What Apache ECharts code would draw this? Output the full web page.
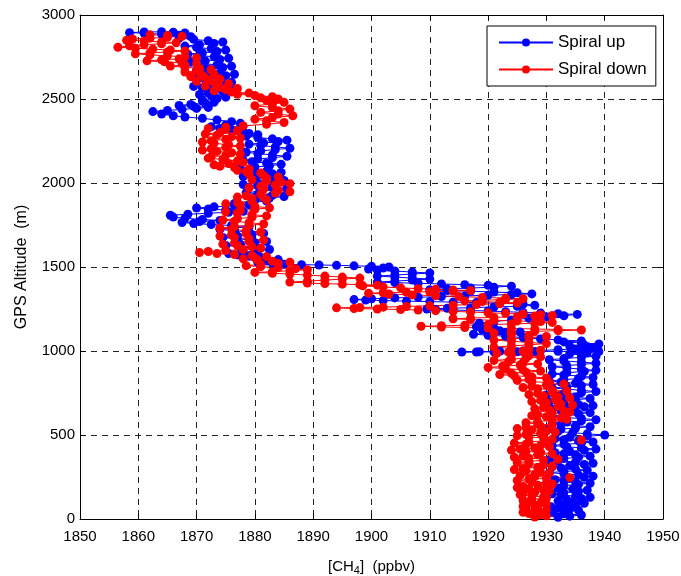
<!DOCTYPE html>
<html>
<head>
<meta charset="utf-8">
<script src="https://cdn.jsdelivr.net/npm/echarts@6/dist/echarts.min.js"></script>
<style>
  html, body { margin: 0; padding: 0; background: #fff; }
  #chart { width: 681px; height: 576px; }
</style>
</head>
<body>
<div id="chart"></div>
<script>
// [CH4 ppbv, altitude m], in flight order
const spiralUp = [
  // 0 - 1000 m
  [1932,10],[1934,17],[1936,24],[1933,31],[1931,38],[1933.5,45],[1935.5,52],[1934,59],[1932,66],[1930.8,73],
  [1933,80],[1935,87],[1936.5,94],[1934,101],[1932,108],[1933.5,115],[1936,122],[1937.5,129],[1935,136],[1932.5,143],
  [1931,150],[1933,157],[1935.5,164],[1937,171],[1934.5,178],[1932,185],[1930.5,192],[1933,199],[1935.5,206],[1937.5,213],
  [1935,220],[1933,227],[1931.5,234],[1934,241],[1936.5,248],[1938,255],[1935.5,262],[1933,269],[1930.5,276],[1933,283],
  [1937,290],[1935,297],[1932.5,304],[1931,311],[1934,318],[1936.5,325],[1938,332],[1935,339],[1932,346],[1930.5,353],
  [1933,360],[1935.5,367],[1937.5,374],[1935,381],[1933,388],[1931.5,395],[1934,402],[1936.5,409],[1938.5,416],[1936,423],
  [1933.5,430],[1931,437],[1933,444],[1936,451],[1938,458],[1935.5,465],[1933,472],[1931.5,479],[1934,486],[1937,493],
  [1940,500],[1937,507],[1934.5,514],[1932,521],[1930,528],[1932.5,535],[1935,542],[1937.5,549],[1935,556],[1932.5,563],
  [1931,570],[1933.5,577],[1936,584],[1938.5,591],[1936,598],[1933,605],[1930.5,612],[1933,619],[1935.5,626],[1937.5,633],
  [1935,640],[1932.5,647],[1931,654],[1934,661],[1936.5,668],[1938,675],[1935.5,682],[1933,689],[1930.5,696],[1932.5,703],
  [1935,710],[1937.5,717],[1935,724],[1932,731],[1930,738],[1933,745],[1936,752],[1938.5,759],[1936,766],[1933.5,773],
  [1931,780],[1933.5,787],[1936,794],[1938,801],[1935,808],[1932.5,815],[1930.5,822],[1933,829],[1935.5,836],[1938,843],
  [1936,850],[1933,857],[1931,864],[1933.5,871],[1936.5,878],[1938.5,885],[1936,892],[1933.5,899],[1931,906],[1933.5,913],
  [1936,920],[1938.5,927],[1936,934],[1933,941],[1930.5,948],[1933,955],[1936,962],[1938.5,969],[1936,976],[1934,983],
  [1937,990],[1939,997],
  // loops through 1000 - 1550 m
  [1936,999],[1932,998],[1928,997],[1925,996],[1921,995],[1918,994],[1915.5,994],[1918.5,996],[1922,998],[1926,1000],
  [1929,1003],[1932,1008],[1935,1012],[1938,1018],[1937,1025],[1934,1030],[1936.5,1036],[1939,1042],[1936,1048],[1933,1054],
  [1936,1060],[1932,1066],[1929,1072],[1926,1080],[1923,1088],[1920,1094],[1917.5,1100],[1920,1105],[1923,1110],[1925.5,1113],
  [1922,1120],[1919,1128],[1921,1136],[1918,1145],[1920.5,1155],[1918.5,1165],[1921,1175],[1924,1185],[1927,1195],[1930,1203],
  [1933,1210],[1935.3,1218],[1932,1222],[1929,1226],[1926,1230],[1923,1234],[1920,1238],[1917,1241],[1914,1244],[1911,1247],
  [1909.5,1250],[1913,1254],[1917,1258],[1921,1262],[1925,1266],[1928,1272],[1926,1280],[1922,1284],[1918,1288],[1914,1291],
  [1910,1294],[1906,1297],[1902,1300],[1899,1303],[1897,1306],[1900,1311],[1904,1316],[1908,1320],[1912,1324],[1916,1328],
  [1920,1332],[1924,1336],[1927.5,1340],[1925,1346],[1921,1351],[1917,1356],[1913,1360],[1910,1365],[1913,1370],[1917,1375],
  [1921,1380],[1924,1386],[1920,1391],[1916,1395],[1912,1399],[1908,1403],[1904,1407],[1901,1410],[1904,1416],[1907,1422],
  [1910,1428],[1907,1434],[1904,1440],[1901,1446],[1904,1452],[1907,1458],[1910,1464],[1907,1470],[1904,1476],[1901,1482],
  [1899.5,1488],[1902,1494],[1903,1500],[1900,1504],[1897,1507],[1894,1510],[1891,1512],[1888,1514],[1885,1517],[1883,1522],
  [1880.5,1528],[1882,1536],[1884,1544],[1881,1550],
  // 1550 - 1900 m
  [1881,1556],[1879,1564],[1877,1572],[1875.5,1580],[1878,1588],[1880.5,1596],[1882.5,1604],[1880,1612],[1877.5,1620],[1875,1628],
  [1877.5,1636],[1880,1644],[1882,1652],[1879.5,1660],[1877,1668],[1874.5,1676],[1877,1684],[1879.5,1692],[1881.5,1700],[1879,1708],
  [1876.5,1716],[1874,1724],[1876.5,1732],[1879,1740],[1876,1747],[1872.5,1753],[1869.5,1759],[1867.5,1765],[1870.5,1771],[1874,1777],
  [1871,1783],[1868,1790],[1866,1797],[1865.5,1808],[1868.5,1814],[1872,1820],[1875.5,1826],[1878,1832],[1875,1839],[1872,1845],
  [1870,1851],[1873,1858],[1876.5,1864],[1879,1871],[1876.5,1878],[1879.5,1885],[1882,1892],[1880,1899],
  // 1900 - 2300 m
  [1880,1903],[1882.5,1911],[1885,1919],[1883,1927],[1880.5,1935],[1878.5,1943],[1881,1951],[1883.5,1959],[1885.5,1967],[1883,1975],
  [1880.5,1983],[1878,1991],[1880.5,1999],[1883,2007],[1885,2015],[1882.5,2023],[1880,2031],[1878,2039],[1880.5,2047],[1883,2055],
  [1884.5,2063],[1882,2071],[1879.5,2079],[1877.5,2087],[1880,2095],[1882.5,2103],[1884.5,2111],[1882,2119],[1879.5,2127],[1878,2135],
  [1880.5,2143],[1883,2151],[1885.5,2159],[1883,2167],[1880.5,2175],[1878.5,2183],[1881,2191],[1883.5,2199],[1886,2207],[1883.5,2215],
  [1881,2223],[1879,2231],[1881.5,2239],[1884,2247],[1885.5,2255],[1883,2263],[1880.5,2271],[1878.5,2279],[1880.5,2287],[1879,2295],
  // 2300 - 2500 m
  [1878,2305],[1876,2315],[1874,2325],[1872.5,2335],[1875,2345],[1877.5,2355],[1876,2365],[1873.5,2375],[1871,2385],[1868,2393],
  [1866,2400],[1864,2410],[1862.5,2425],[1865,2432],[1867.5,2438],[1870,2444],[1872,2450],[1869.5,2456],[1867,2462],[1869,2468],
  [1871.5,2474],[1873,2480],[1871,2488],
  // 2500 - 2900 m
  [1871,2495],[1873.5,2503],[1875,2511],[1872.5,2519],[1870.5,2527],[1872,2535],[1874.5,2543],[1876,2551],[1873.5,2559],[1871,2567],
  [1869.5,2575],[1872,2583],[1874.5,2591],[1876,2599],[1874,2607],[1871.5,2615],[1870,2623],[1872.5,2631],[1875,2639],[1876.5,2647],
  [1874,2655],[1871.5,2663],[1870,2671],[1872,2679],[1874.5,2687],[1876,2695],[1873.5,2703],[1871,2711],[1869,2719],[1871.5,2727],
  [1874,2735],[1875.5,2743],[1873,2751],[1870.5,2759],[1868.5,2767],[1871,2775],[1873.5,2783],[1875,2791],[1872.5,2799],[1870,2807],
  [1868,2815],[1870.5,2823],[1873,2831],[1874.5,2839],[1872,2847],[1869.5,2855],[1867,2863],[1869,2871],[1867,2879],[1864,2886],
  [1861,2891],[1858.5,2895],[1861,2899],[1864,2900],[1866,2898],[1868,2893]
];

const spiralDown = [
  // 2900 - 2500 m
  [1862,2882],[1865,2878],[1867.5,2873],[1865,2867],[1862,2862],[1859,2857],[1858,2850],[1861,2845],[1864,2840],[1866.5,2835],
  [1864,2829],[1861,2823],[1858.5,2817],[1856.5,2808],[1859.5,2802],[1862.5,2797],[1865.5,2791],[1868,2786],[1865,2780],[1862,2774],
  [1859.5,2769],[1862,2763],[1865,2757],[1868,2751],[1870,2745],[1867,2739],[1864,2733],[1861.5,2727],[1864.5,2721],[1867.5,2715],
  [1870,2709],[1868,2702],[1865.5,2696],[1868,2689],[1870.5,2682],[1872.5,2675],[1870,2668],[1868,2661],[1870.5,2654],[1873,2647],
  [1871,2640],[1869,2633],[1871.5,2626],[1874,2619],[1872,2612],[1870,2605],[1873,2598],[1875.5,2591],[1873.5,2584],[1871.5,2577],
  [1874,2570],[1877,2563],[1875,2556],[1873,2549],[1876,2542],[1879,2535],[1877,2528],[1880,2521],[1883,2514],[1881,2507],
  // 2500 - 2300 m
  [1884,2500],[1882,2490],[1885,2480],[1883,2470],[1880,2460],[1883,2450],[1886,2440],[1884,2430],[1881,2420],[1884,2410],
  [1886.5,2400],[1883,2390],[1880,2380],[1882,2370],[1885,2360],[1882,2350],[1878,2340],[1875,2332],[1872,2325],[1875,2318],
  [1877,2310],
  // 2300 - 1550 m
  [1874,2300],[1871.5,2292],[1873.5,2284],[1876,2276],[1877.5,2268],[1875,2260],[1872.5,2252],[1871,2244],[1873,2236],[1875.5,2228],
  [1877.5,2220],[1875,2212],[1872.5,2204],[1871,2196],[1873.5,2188],[1876,2180],[1877.5,2172],[1875,2164],[1872.5,2156],[1872,2148],
  [1874.5,2140],[1877,2132],[1878,2124],[1875.5,2116],[1873,2108],[1874,2100],[1876.5,2092],[1879,2084],[1877,2076],[1878.5,2068],
  [1881,2060],[1879,2052],[1881.5,2044],[1884,2036],[1882,2028],[1879.5,2020],[1882,2012],[1884.5,2004],[1886,1996],[1883.5,1988],
  [1881,1980],[1879,1972],[1881.5,1964],[1884,1956],[1886,1948],[1883.5,1940],[1881,1932],[1878.5,1924],[1877,1916],[1879.5,1908],
  [1882,1900],[1879.5,1892],[1877,1884],[1875,1876],[1877.5,1868],[1880,1860],[1882.5,1852],[1880,1844],[1877.5,1836],[1875,1828],
  [1877,1820],[1879.5,1812],[1882,1804],[1879.5,1796],[1877,1788],[1874.5,1780],[1876.5,1772],[1879,1764],[1881.5,1756],[1879,1748],
  [1876.5,1740],[1874,1732],[1876,1724],[1878.5,1716],[1881,1708],[1878.5,1700],[1876,1692],[1874,1684],[1876.5,1676],[1879,1668],
  [1881.5,1660],[1879,1652],[1876.5,1644],[1874.5,1636],[1877,1628],[1879.5,1620],[1881,1612],[1878,1604],[1875,1598],[1872,1592],
  [1870.5,1586],[1873.5,1580],[1876.5,1574],[1879.5,1568],[1882,1562],[1880,1554],
  // loops through 1550 - 1000 m
  [1878,1548],[1880.5,1541],[1883,1534],[1886,1528],[1884,1521],[1881,1515],[1878.5,1508],[1881,1502],[1884,1496],[1887,1490],
  [1889,1484],[1886,1478],[1883,1472],[1880,1468],[1883,1463],[1886,1458],[1889,1452],[1892,1446],[1895,1440],[1898,1434],
  [1895,1428],[1892,1422],[1889,1416],[1886,1410],[1889,1405],[1892,1401],[1895,1398],[1898,1395],[1901,1392],[1898.5,1388],
  [1902,1381],[1905,1376],[1908,1371],[1911,1367],[1914,1363],[1917,1360],[1914,1356],[1910,1353],[1906,1350],[1902,1347],
  [1899.5,1344],[1903,1339],[1907,1334],[1911,1329],[1915,1324],[1919,1319],[1923,1315],[1926,1311],[1923,1306],[1919,1302],
  [1916,1298],[1919,1294],[1922,1290],[1925,1286],[1922,1281],[1918,1277],[1914,1273],[1910,1269],[1906,1265],[1902,1261],
  [1898,1259],[1894,1257],[1897,1253],[1901,1250],[1905,1247],[1908,1244],[1911,1240],[1914,1236],[1917,1232],[1920,1228],
  [1923,1224],[1926,1220],[1929,1216],[1931,1212],[1928,1208],[1925,1204],[1921,1200],[1917,1196],[1914,1192],[1917,1187],
  [1921,1183],[1925,1179],[1929,1175],[1931,1170],[1928,1165],[1924,1161],[1920,1157],[1916,1153],[1912,1150],[1908.5,1147],
  [1912,1143],[1916,1140],[1920,1137],[1924,1134],[1928,1131],[1932,1128],[1936,1125],[1932,1121],[1928,1117],[1924,1112],
  [1921,1107],[1924,1100],[1927,1093],[1930,1086],[1927,1079],[1924,1072],[1921,1065],[1924,1058],[1927,1051],[1930,1044],
  [1927,1037],[1924,1030],[1921,1023],[1924,1016],[1927,1009],[1929,1004],
  // 1000 - 0 m
  [1926,1000],[1923.5,993],[1921.5,986],[1924,979],[1927,972],[1929,965],[1926.5,958],[1924,951],[1921,944],[1923.5,937],
  [1926,930],[1928.5,923],[1925.5,916],[1922.5,909],[1920,902],[1923,895],[1926,888],[1929,881],[1926.5,874],[1924,867],
  [1922,860],[1924.5,853],[1927.5,846],[1930,839],[1927,832],[1925,825],[1927.5,818],[1930.5,811],[1933,804],[1930,797],
  [1927.5,790],[1926,783],[1928.5,776],[1931,769],[1933.5,762],[1931,755],[1928.5,748],[1927,741],[1929.5,734],[1932,727],
  [1934,720],[1931.5,713],[1929,706],[1927.5,699],[1930,692],[1932.5,685],[1934.5,678],[1932,671],[1929.5,664],[1928,657],
  [1930.5,650],[1933,643],[1934,636],[1931,629],[1928.5,622],[1927.5,615],[1930,608],[1932.5,601],[1933.5,594],[1931,587],
  [1928.5,580],[1926.5,573],[1928.5,566],[1931,559],[1929,552],[1926.5,545],[1925,538],[1927.5,531],[1930,524],[1931.5,517],
  [1929,510],[1926.5,503],[1925,496],[1927,489],[1929.5,482],[1931,475],[1936,470],[1930,466],[1927,459],[1924.5,452],
  [1926.5,445],[1929,438],[1930.5,431],[1928,424],[1925.5,417],[1924,410],[1926.5,403],[1929,396],[1931,389],[1928.5,382],
  [1926,375],[1924.5,368],[1927,361],[1932,355],[1929.5,350],[1927,343],[1925,336],[1927,329],[1929.5,322],[1931,315],
  [1928.5,308],[1926,301],[1924.5,294],[1926.5,287],[1929,280],[1930.5,273],[1928,266],[1925.5,259],[1928,252],[1934,246],
  [1930,242],[1927,236],[1925,229],[1927.5,222],[1930,215],[1931,208],[1928.5,201],[1926,194],[1925,187],[1927,180],
  [1929.5,173],[1930.5,166],[1928,159],[1926,152],[1925.5,145],[1927.5,138],[1929.5,131],[1930,124],[1927.5,117],[1926,110],
  [1927,103],[1929,96],[1930,89],[1928,82],[1926,75],[1926.5,68],[1928.5,61],[1930,54],[1928,47],[1926,40],
  [1927,33],[1929,26],[1930,19],[1928,12]
];

const xTicks = [1850, 1950, 10];
const yTicks = [0, 3000, 500];

const chart = echarts.init(document.getElementById('chart'));

const font = 'Liberation Sans, Arial, sans-serif';
const plain = v => String(v);
const boxAxis = {
  axisLine: { show: true, onZero: false, lineStyle: { color: '#000', width: 1 } },
  axisTick: { show: true, inside: true, length: 5, lineStyle: { color: '#000' } },
  axisLabel: { show: false },
  splitLine: { show: false }
};

const option = {
  animation: false,
  backgroundColor: '#fff',
  textStyle: { fontFamily: font, color: '#000' },
  grid: { left: 80, right: 18, top: 15, bottom: 57, outerBoundsMode: 'none' },
  legend: {
    orient: 'vertical',
    left: 487,
    top: 26,
    padding: [8, 9, 8, 11],
    itemWidth: 54,
    itemHeight: 10,
    itemGap: 10,
    backgroundColor: '#fff',
    borderColor: '#000',
    borderWidth: 1,
    textStyle: { fontSize: 17, color: '#000', fontFamily: font },
    data: ['Spiral up', 'Spiral down']
  },
  xAxis: [
    {
      type: 'value',
      min: xTicks[0], max: xTicks[1], interval: xTicks[2],
      position: 'bottom',
      name: '[CH{sub|4}]  (ppbv)',
      nameLocation: 'middle',
      nameGap: 39,
      nameTextStyle: {
        fontSize: 15, color: '#000', fontFamily: font,
        rich: { sub: { fontSize: 11, verticalAlign: 'top', padding: [7, 0, 0, 0], fontFamily: font, color: '#000' } }
      },
      axisLine: { show: true, onZero: false, lineStyle: { color: '#000', width: 1 } },
      axisTick: { show: true, inside: true, length: 5, lineStyle: { color: '#000' } },
      axisLabel: { fontSize: 15, color: '#000', margin: 10, fontFamily: font, formatter: plain },
      splitLine: { show: true, lineStyle: { color: '#222', type: [6, 5], width: 1 } }
    },
    Object.assign({ type: 'value', min: xTicks[0], max: xTicks[1], interval: xTicks[2], position: 'top' }, boxAxis)
  ],
  yAxis: [
    {
      type: 'value',
      min: yTicks[0], max: yTicks[1], interval: yTicks[2],
      position: 'left',
      name: 'GPS Altitude  (m)',
      nameLocation: 'middle',
      nameGap: 50,
      nameRotate: 90,
      nameTextStyle: { fontSize: 16, color: '#000', fontFamily: font },
      axisLine: { show: true, onZero: false, lineStyle: { color: '#000', width: 1 } },
      axisTick: { show: true, inside: true, length: 5, lineStyle: { color: '#000' } },
      axisLabel: { fontSize: 15, color: '#000', margin: 5, fontFamily: font, formatter: plain },
      splitLine: { show: true, lineStyle: { color: '#222', type: [6, 5], width: 1 } }
    },
    Object.assign({ type: 'value', min: yTicks[0], max: yTicks[1], interval: yTicks[2], position: 'right' }, boxAxis)
  ],
  series: [
    {
      name: 'Spiral up',
      type: 'line',
      data: spiralUp,
      symbol: 'circle',
      symbolSize: 9,
      color: '#0000ff',
      itemStyle: { color: '#0000ff' },
      lineStyle: { color: '#0000ff', width: 1 }
    },
    {
      name: 'Spiral down',
      type: 'line',
      data: spiralDown,
      symbol: 'circle',
      symbolSize: 9,
      color: '#ff0000',
      itemStyle: { color: '#ff0000' },
      lineStyle: { color: '#ff0000', width: 1 }
    }
  ]
};

chart.setOption(option);
</script>
</body>
</html>
